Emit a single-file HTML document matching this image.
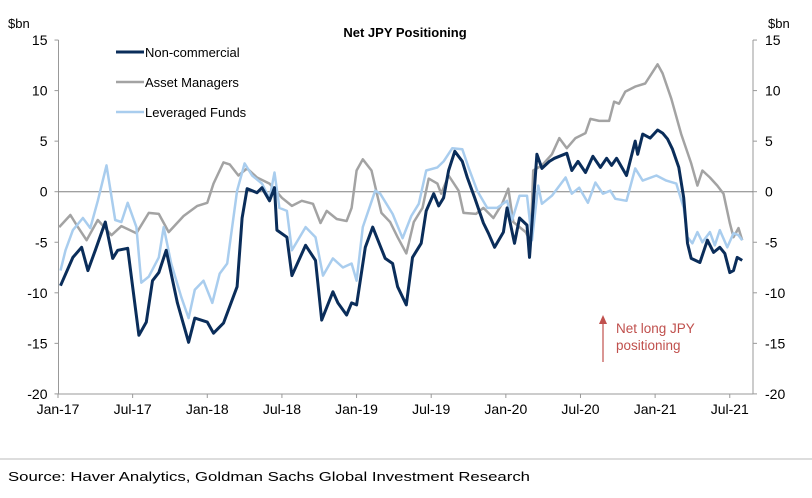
<!DOCTYPE html>
<html><head><meta charset="utf-8"><style>
body{margin:0;background:#fff;}
svg{display:block;font-family:"Liberation Sans",Arial,sans-serif;}
</style></head><body>
<svg id="chart" width="812" height="498" viewBox="0 0 812 498">
<text x="405" y="37" text-anchor="middle" font-size="13" font-weight="bold">Net JPY Positioning</text>
<text x="8" y="28" font-size="13">$bn</text>
<text x="768" y="28" font-size="13">$bn</text>
<g id="grid"></g>
<g id="series"></g>
<g>
<line x1="116" y1="52" x2="144" y2="52" stroke="#0a2d5a" stroke-width="3"/>
<text x="145" y="57" font-size="13">Non-commercial</text>
<line x1="116" y1="82" x2="144" y2="82" stroke="#a3a3a3" stroke-width="2.5"/>
<text x="145" y="87" font-size="13">Asset Managers</text>
<line x1="116" y1="112" x2="144" y2="112" stroke="#a9cdee" stroke-width="2.5"/>
<text x="145" y="117" font-size="13">Leveraged Funds</text>
</g>
<g>
<line x1="603" y1="362" x2="603" y2="322" stroke="#c0504d" stroke-width="1.2"/>
<polygon points="599,324 607,324 603,315" fill="#c0504d"/>
<text x="616" y="333" font-size="13.5" fill="#c0504d">Net long JPY</text>
<text x="616" y="350" font-size="13.5" fill="#c0504d">positioning</text>
</g>
<line x1="0" y1="459" x2="812" y2="459" stroke="#bbb" stroke-width="1"/>
<text x="8" y="481" font-size="13" textLength="522" lengthAdjust="spacingAndGlyphs">Source: Haver Analytics, Goldman Sachs Global Investment Research</text>
</svg>
<script>
const yTicks=[15,10,5,0,-5,-10,-15,-20];
const xTickMonths=[0,6,12,18,24,30,36,42,48,54];
const xTickLabels=["Jan-17","Jul-17","Jan-18","Jul-18","Jan-19","Jul-19","Jan-20","Jul-20","Jan-21","Jul-21"];
const ncT=[0.2,1.2,1.9,2.4,3.0,3.8,4.4,4.8,5.6,6.5,7.1,7.6,8.1,8.7,9.6,10.5,11.0,12.0,12.5,13.3,14.4,14.8,15.2,16.0,16.4,17.0,17.4,17.6,18.4,18.8,19.9,20.7,21.2,22.1,22.5,23.2,23.6,24.0,24.7,25.3,26.3,26.9,27.3,28.0,28.5,29.2,29.6,30.2,30.6,31.0,31.4,31.9,32.5,32.9,33.5,34.2,34.6,35.1,35.8,36.1,36.7,37.1,37.7,37.9,38.5,38.9,39.5,39.9,40.9,41.3,41.8,42.4,43.0,43.6,44.1,44.5,44.9,45.7,46.4,46.6,47.0,47.6,48.2,48.6,49.0,49.4,49.9,50.3,50.6,50.9,51.6,52.2,52.7,53.2,53.6,54.0,54.3,54.6,55.0];
const ncV=[-9.3,-6.5,-5.5,-7.8,-5.8,-3.0,-6.6,-5.8,-5.6,-14.2,-12.9,-8.8,-8.0,-5.8,-11,-14.9,-12.5,-12.9,-14.0,-13,-9.4,-2.6,0.3,-0.1,0.4,-0.9,0.4,-3.8,-4.5,-8.3,-5.3,-6.8,-12.7,-9.9,-11,-12.2,-11,-11.2,-5.5,-3.5,-6.6,-7.1,-9.4,-11.2,-6.5,-5.1,-1.9,-0.2,-1.4,-0.6,2.1,4.0,3.0,1.4,-0.6,-3.1,-4.1,-5.5,-4.0,-1.6,-5.1,-2.6,-3.3,-6.5,3.7,2.3,3.0,3.3,3.8,2.1,3.0,1.9,3.5,2.4,3.3,2.6,3.3,1.6,5.0,3.7,5.7,5.3,6.1,5.8,5.2,4.2,2.4,-0.6,-5.1,-6.6,-7.0,-4.8,-6.0,-5.5,-6.1,-8.0,-7.8,-6.5,-6.8];
const amT=[0.1,1.0,1.6,2.3,3.2,4.3,5.1,6.3,7.3,8.1,8.9,10.1,11.2,12.0,12.5,13.3,13.8,14.5,15.2,16.0,17.0,18.0,18.8,19.6,20.5,21.1,21.6,22.4,23.2,23.6,24.0,24.5,25.2,26.0,26.7,27.3,28.0,28.6,29.3,29.8,30.5,30.8,31.4,32.2,32.6,33.6,34.2,35.0,35.7,36.2,36.6,37.6,38.0,38.2,38.9,39.7,40.3,40.9,41.6,42.4,42.8,43.5,44.3,44.7,45.1,45.6,46.4,47.2,48.2,48.6,49.3,50.1,50.9,51.4,51.8,52.4,53.0,53.5,54.0,54.3,54.7,55.0];
const amV=[-3.5,-2.3,-3.5,-4.8,-2.8,-4.3,-3.4,-4.1,-2.1,-2.2,-4.0,-2.4,-1.4,-1.1,0.8,2.9,2.7,1.6,2.3,1.4,0.8,-0.6,-1.4,-0.9,-1.2,-3.1,-1.9,-2.7,-2.9,-1.6,2.1,3.2,2.1,-2.1,-3.0,-4.5,-6.1,-3.0,-1.6,1.3,0.8,-0.2,1.6,0.1,-2.1,-2.2,-1.6,-2.6,-1.2,0.3,-3.0,-4.0,-5.0,2.1,2.6,3.7,5.3,4.3,5.3,5.8,7.2,7.0,7.0,8.9,8.7,9.9,10.4,10.7,12.6,11.7,9.2,5.7,2.8,0.6,2.1,1.4,0.6,-0.2,-3.1,-4.5,-3.6,-4.8];
const lfT=[0.2,0.6,1.2,2.0,2.6,3.2,3.9,4.6,5.1,5.6,6.3,6.7,7.3,8.1,8.5,9.1,9.9,10.5,11.0,11.7,12.4,13.0,13.6,14.4,15.0,15.6,16.4,17.0,17.4,17.8,18.4,18.8,19.9,20.7,21.3,22.1,22.9,23.6,24.0,24.5,25.5,25.9,26.9,27.7,28.4,29.0,29.6,30.5,31.0,31.7,32.5,33.0,33.7,34.5,35.3,36.1,36.5,37.1,37.7,38.1,38.6,38.9,39.7,40.8,41.3,41.9,42.6,43.2,43.8,44.4,44.8,45.7,46.4,47.0,48.1,48.9,49.7,50.3,50.6,51.0,51.4,51.8,52.4,52.8,53.2,53.8,54.3,54.7,55.0];
const lfV=[-7.8,-5.8,-3.8,-2.6,-3.6,-0.9,2.6,-2.8,-3.0,-1.1,-3.5,-9.0,-8.4,-6.5,-3.5,-7.1,-10.4,-12.5,-9.7,-8.8,-11.0,-8.1,-7.1,0.1,2.8,1.6,0.8,-0.7,1.9,-1.6,-1.9,-5.8,-3.5,-4.5,-8.3,-6.6,-7.5,-7.1,-8.8,-3.5,0.1,-0.2,-2.2,-4.6,-2.4,-1.2,2.1,2.4,3.0,4.3,4.2,2.4,0.1,-1.6,-1.6,-0.9,-2.8,-0.4,-0.4,-4.8,0.6,-1.2,-0.4,1.4,-0.2,0.4,-1.1,0.9,-0.2,0.1,-0.7,-0.9,2.3,1.1,1.6,1.1,0.8,-1.6,-4.5,-5.1,-4.0,-5.0,-4.0,-5.3,-3.8,-5.5,-4.1,-4.3,-4.8];

const X0=58,XM=12.44,Y0=191.7,YU=10.11,L=58.5,R=753,T=40,B=394;
const xs=m=>X0+m*XM, ys=v=>Y0-v*YU;
const NS="http://www.w3.org/2000/svg";
function mk(tag,attrs,parent){const e=document.createElementNS(NS,tag);for(const k in attrs)e.setAttribute(k,attrs[k]);parent.appendChild(e);return e;}
const grid=document.getElementById('grid');
const ax1=mk('line',{x1:L,y1:T,x2:L,y2:B,stroke:'#999'},grid);


const ax2=mk('line',{x1:R,y1:T,x2:R,y2:B,stroke:'#999'},grid);


const ax3=mk('line',{x1:L,y1:B,x2:R,y2:B,stroke:'#999'},grid);


const zl=mk('line',{x1:L,y1:ys(0),x2:R,y2:ys(0),stroke:'#808080','stroke-width':1},grid);


yTicks.forEach(v=>{
  const y=ys(v);
  mk('line',{x1:L-4,y1:y,x2:L,y2:y,stroke:'#999'},grid);
  mk('line',{x1:R,y1:y,x2:R+4,y2:y,stroke:'#999'},grid);
  const t1=mk('text',{x:L-11,y:y+5,'text-anchor':'end','font-size':14},grid);t1.textContent=v;
  
  
  const t2=mk('text',{x:R+12,y:y+5,'text-anchor':'start','font-size':14},grid);t2.textContent=v;
  
  
});
xTickMonths.forEach((m,i)=>{
  const x=xs(m);
  mk('line',{x1:x,y1:B,x2:x,y2:B+4,stroke:'#999'},grid);
  const t=mk('text',{x:x,y:B+20,'text-anchor':'middle','font-size':14},grid);t.textContent=xTickLabels[i];
  
  
});
const sg=document.getElementById('series');
function line(T_,V_,color,w,name){
  const d=T_.map((m,i)=>(i?'L':'M')+xs(m).toFixed(1)+','+ys(V_[i]).toFixed(1)).join('');
  const p=mk('path',{d:d,fill:'none',stroke:color,'stroke-width':w,'stroke-linejoin':'round'},sg);
  
  
}
line(amT,amV,'#a3a3a3',2.5,'asset-managers-line');
line(lfT,lfV,'#a9cdee',2.5,'leveraged-funds-line');
line(ncT,ncV,'#0a2d5a',3,'non-commercial-line');
</script>
</body></html>
